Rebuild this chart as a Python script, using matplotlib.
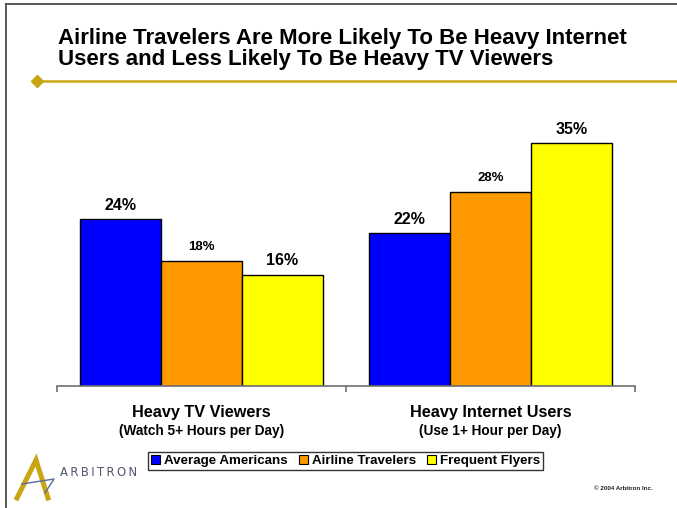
import matplotlib.pyplot as plt
import numpy as np
from matplotlib.patches import Patch
from matplotlib.lines import Line2D

plt.rcParams['font.family'] = ['Liberation Sans', 'DejaVu Sans']

# data
groups = ["Heavy TV Viewers", "Heavy Internet Users"]
group_notes = ["(Watch 5+ Hours per Day)", "(Use 1+ Hour per Day)"]
series_names = ["Average Americans", "Airline Travelers", "Frequent Flyers"]
average_americans = [24, 22]
airline_travelers = [18, 28]
frequent_flyers = [16, 35]
colors = ["#0000FF", "#FF9900", "#FFFF00"]
# label sizes as in the slide (middle series is printed smaller)
label_sizes = [11.5, 9.5, 11.5]

W, H = 677, 508
fig = plt.figure(figsize=(W / 100, H / 100), dpi=100)

def px(x, y):
    # pixel coords (top-left origin) -> figure fraction
    return x / W, 1 - y / H

# slide border (top and left)
fig.add_artist(Line2D([6 / W, 6 / W], [0, 1 - 4 / H], color="#4a4a4a", lw=1.3))
fig.add_artist(Line2D([6 / W, 1], [1 - 4 / H, 1 - 4 / H], color="#4a4a4a", lw=1.3))

# title
fig.text(58 / W, 1 - 64.5 / H,
         "Airline Travelers Are More Likely To Be Heavy Internet\n"
         "Users and Less Likely To Be Heavy TV Viewers",
         fontsize=16, fontweight="bold", ha="left", va="baseline", linespacing=0.95)

# gold rule with diamond
fig.add_artist(Line2D([37 / W, 1], [1 - 81 / H, 1 - 81 / H], color="#C9A514", lw=1.8))
fig.add_artist(Line2D([37 / W], [1 - 81 / H], marker="D", markersize=6,
                      color="#C9A514", lw=0))

# chart
ax = fig.add_axes([56.7 / W, 1 - 385.7 / H, 578.3 / W, 277.3 / H])
x = np.arange(len(groups))
bw = 0.2795
series = [average_americans, airline_travelers, frequent_flyers]
for i, (vals, col) in enumerate(zip(series, colors)):
    bars = ax.bar(x + (i - 1) * bw, vals, bw, color=col, edgecolor="black",
                  linewidth=1.0, label=series_names[i])
    for j, b in enumerate(bars):
        ax.annotate(f"{vals[j]}%", (b.get_x() + b.get_width() / 2, b.get_height()),
                    xytext=(0, 10), textcoords="offset points", ha="center",
                    va="center", fontsize=label_sizes[i], fontweight="bold")

ax.set_xlim(-0.5, 1.5)
ax.set_ylim(0, 40)
for s in ["top", "right", "left"]:
    ax.spines[s].set_visible(False)
ax.spines["bottom"].set_color("#707070")
ax.spines["bottom"].set_linewidth(1.2)
ax.set_yticks([])
ax.set_xticks([-0.5, 0.5, 1.5])
ax.set_xticklabels([])
ax.tick_params(axis="x", direction="out", length=4, width=1.2, color="#707070")
ax.patch.set_alpha(0)

# category labels
for i in range(len(groups)):
    ax.text(x[i], -0.095, groups[i], transform=ax.get_xaxis_transform(),
            ha="center", va="center", fontsize=11.7, fontweight="bold")
    ax.text(x[i], -0.165, group_notes[i], transform=ax.get_xaxis_transform(),
            ha="center", va="center", fontsize=9.8, fontweight="bold")

# legend
handles = [Patch(facecolor=c, edgecolor="black", linewidth=0.8) for c in colors]
leg = fig.legend(handles, series_names, loc="center", bbox_to_anchor=px(345.5, 461),
                 ncol=3, frameon=True, fancybox=False, edgecolor="black",
                 prop={"weight": "bold", "size": 9.6}, handlelength=0.7,
                 handleheight=0.7, handletextpad=0.3, columnspacing=0.8,
                 borderpad=0.22, borderaxespad=0)
leg.get_frame().set_linewidth(1.0)

# logo
gold = "#C9A514"
fig.add_artist(Line2D([17 / W, 36 / W, 48 / W], [1 - 498 / H, 1 - 460 / H, 1 - 498 / H],
                      color=gold, lw=3.6, solid_joinstyle="miter"))
fig.add_artist(Line2D([22 / W, 54 / W, 45 / W], [1 - 484 / H, 1 - 479 / H, 1 - 493 / H],
                      color="#5a6a9a", lw=1.0))
fig.text(60 / W, 1 - 472 / H, "\u2009".join("ARBITRON"), fontsize=8.4, color="#4f566e",
         ha="left", va="center", family=["DejaVu Sans"])

# copyright
fig.text(623 / W, 1 - 489 / H, "\u00a9 2004 Arbitron Inc.", fontsize=4.5,
         fontweight="bold", ha="center", va="center", color="#222222")

fig.savefig("out.png", dpi=100)
